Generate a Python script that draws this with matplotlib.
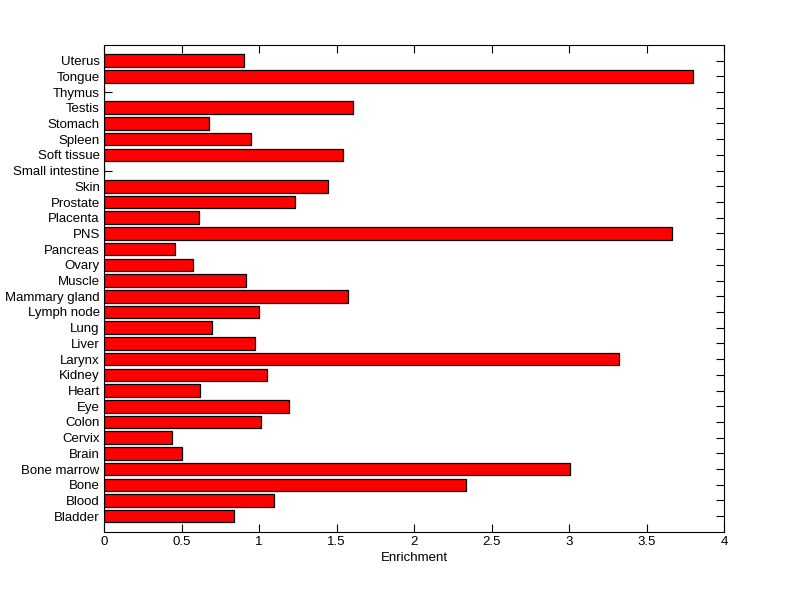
import numpy as np
import matplotlib
matplotlib.use('Agg')
import matplotlib.pyplot as plt

matplotlib.rc('font', family=['Liberation Sans', 'DejaVu Sans'], size=9.5)

tissues = ['Bladder', 'Blood', 'Bone', 'Bone marrow', 'Brain', 'Cervix',
           'Colon', 'Eye', 'Heart', 'Kidney', 'Larynx', 'Liver', 'Lung',
           'Lymph node', 'Mammary gland', 'Muscle', 'Ovary', 'Pancreas',
           'PNS', 'Placenta', 'Prostate', 'Skin', 'Small intestine',
           'Soft tissue', 'Spleen', 'Stomach', 'Testis', 'Thymus', 'Tongue',
           'Uterus']
enrichment = [0.839, 1.097, 2.333, 3.008, 0.504, 0.439,
              1.014, 1.194, 0.620, 1.052, 3.325, 0.975, 0.697,
              1.000, 1.571, 0.917, 0.575, 0.458,
              3.667, 0.613, 1.233, 1.442, 0.0,
              1.543, 0.949, 0.678, 1.607, 0.0, 3.800,
              0.904]

fig = plt.figure(figsize=(8, 5.99), dpi=100)
ax = fig.add_axes([0.13, 0.112, 0.775, 0.813])
ax.set_axisbelow(True)  # ticks sit under the bars, like the MATLAB figure

pos = np.arange(1, len(tissues) + 1)
ax.barh(pos, enrichment, height=0.8, color='#ff0000',
        edgecolor='black', linewidth=0.9)

ax.set_xlim(0, 4)
ax.set_ylim(0, len(tissues) + 1)
ax.set_xticks(np.arange(0, 4.01, 0.5))
ax.set_xticklabels(['0', '0.5', '1', '1.5', '2', '2.5', '3', '3.5', '4'])
ax.set_yticks(pos)
ax.set_yticklabels(tissues)
ax.tick_params(direction='in', top=True, right=True, length=6, width=0.8,
               labelsize=9.5, pad=3)
for s in ax.spines.values():
    s.set_linewidth(0.8)
    s.set_zorder(3)
ax.set_xlabel('Enrichment', fontsize=9.5, labelpad=3)

plt.savefig('out.png', dpi=100)
